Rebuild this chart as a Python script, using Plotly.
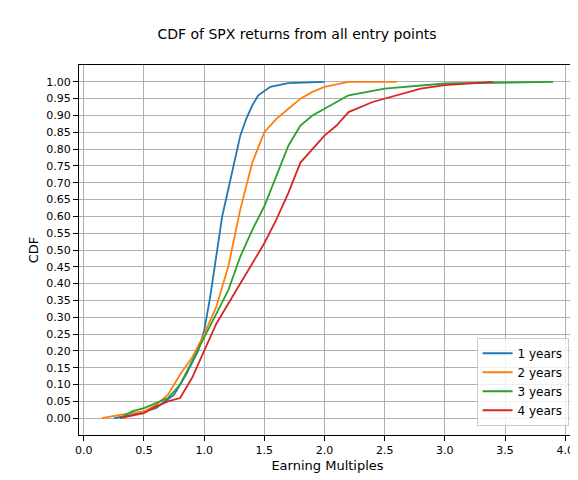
import plotly.graph_objects as go

x1 = [0.25,0.4,0.6,0.75,0.85,0.95,1.0,1.05,1.1,1.15,1.2,1.25,1.3,1.35,1.4,1.45,1.55,1.7,2.0]
y1 = [0,0.01,0.03,0.07,0.13,0.2,0.26,0.36,0.48,0.6,0.68,0.76,0.84,0.89,0.93,0.96,0.985,0.996,1.0]
x2 = [0.15,0.3,0.5,0.6,0.7,0.8,0.9,1.0,1.1,1.2,1.3,1.4,1.5,1.6,1.7,1.8,1.9,2.0,2.2,2.6]
y2 = [0,0.01,0.02,0.04,0.07,0.13,0.18,0.25,0.33,0.45,0.62,0.76,0.85,0.89,0.92,0.95,0.97,0.985,1.0,1.0]
x3 = [0.3,0.4,0.5,0.6,0.7,0.8,0.9,1.0,1.1,1.2,1.3,1.4,1.5,1.6,1.7,1.8,1.9,2.0,2.2,2.5,3.0,3.9]
y3 = [0,0.02,0.03,0.045,0.06,0.1,0.17,0.24,0.31,0.38,0.48,0.56,0.63,0.72,0.81,0.87,0.9,0.92,0.96,0.98,0.995,1.0]
x4 = [0.3,0.5,0.6,0.7,0.8,0.9,1.0,1.1,1.2,1.3,1.4,1.5,1.6,1.7,1.8,1.9,2.0,2.1,2.2,2.4,2.6,2.8,3.0,3.4]
y4 = [0,0.015,0.035,0.05,0.06,0.12,0.2,0.28,0.34,0.4,0.46,0.52,0.59,0.67,0.76,0.8,0.84,0.87,0.91,0.94,0.96,0.98,0.99,1.0]
names = ["1 years","2 years","3 years","4 years"]
colors = ["#1f77b4","#ff7f0e","#2ca02c","#d62728"]

fig = go.Figure()
for x, y, n, c in zip([x1,x2,x3,x4],[y1,y2,y3,y4],names,colors):
    fig.add_trace(go.Scatter(x=x, y=y, mode="lines", name=n, line=dict(color=c, width=1.8)))

ax = dict(showline=True, linecolor="black", mirror=True, showgrid=True, gridcolor="#b0b0b0",
          ticks="outside", tickcolor="black", zeroline=False, automargin=False,
          tickfont=dict(size=11, color="black"))
fig.update_layout(
    width=578, height=480, plot_bgcolor="white", paper_bgcolor="white",
    font=dict(family="DejaVu Sans", size=11, color="black"),
    title=dict(text="CDF of SPX returns from all entry points", x=0.5, xanchor="center", y=0.955, font=dict(size=14)),
    margin=dict(l=71, r=10, t=57, b=53),
    xaxis=dict(ax, range=[-0.04, 4.09], tickvals=[i*0.5 for i in range(9)],
               ticktext=[f"{i*0.5:.1f}" for i in range(9)], title=dict(text="Earning Multiples", standoff=4)),
    yaxis=dict(ax, range=[-0.05, 1.05], tickvals=[i*0.05 for i in range(21)],
               ticktext=[f"{i*0.05:.2f}" for i in range(21)], title=dict(text="CDF", standoff=4)),
    legend=dict(x=0.985, y=0.025, xanchor="right", yanchor="bottom", bordercolor="#cccccc", borderwidth=1,
                bgcolor="rgba(255,255,255,0.8)", font=dict(size=12), tracegroupgap=0),
)
fig.write_html("out.html")
